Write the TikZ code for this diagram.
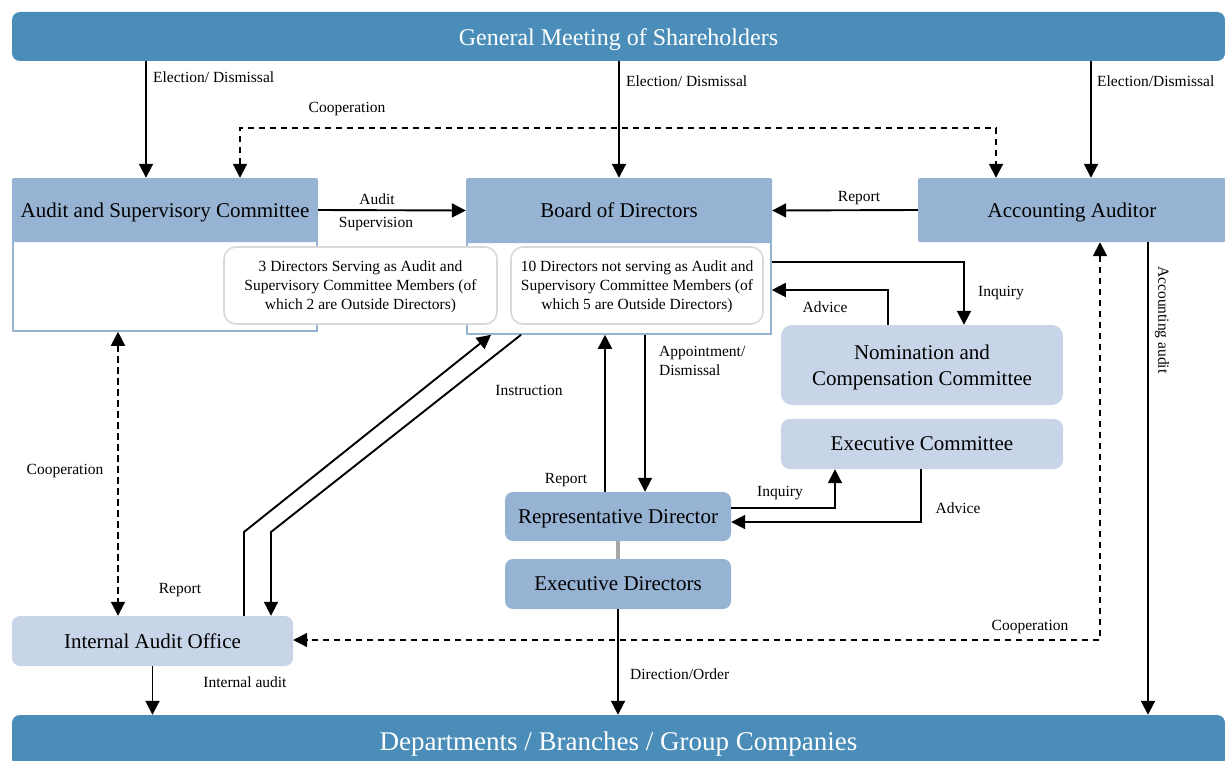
\documentclass[tikz,border=0pt]{standalone}
\usepackage{fontspec}
\setmainfont{Liberation Serif}
\usetikzlibrary{arrows.meta}
\definecolor{barblue}{RGB}{74,141,184}
\definecolor{hdrblue}{RGB}{151,179,211}
\definecolor{lightblue}{RGB}{200,213,232}
\definecolor{subgray}{RGB}{217,217,217}
\definecolor{linkgray}{RGB}{166,166,166}
\begin{document}
\begin{tikzpicture}[x=1pt,y=-1pt,
  bar/.style={fill=barblue, rounded corners=8pt, text=white, inner sep=0pt, text depth=0pt},
  hdr/.style={fill=hdrblue, rounded corners=2pt, font=\fontsize{21}{25}\selectfont, inner sep=0pt, text depth=0pt},
  lowbox/.style={fill=white, draw=hdrblue, line width=1.6pt, inner sep=0pt},
  subbox/.style={fill=white, draw=subgray, line width=1.6pt, rounded corners=12pt, align=center, font=\fontsize{15.5}{19}\selectfont, inner sep=0pt, text depth=0pt},
  dkbox/.style={fill=hdrblue, rounded corners=8pt, font=\fontsize{21}{25}\selectfont, inner sep=0pt, text depth=0pt},
  ltbox/.style={fill=lightblue, rounded corners=11pt, font=\fontsize{21}{26}\selectfont, align=center, inner sep=0pt, text depth=0pt},
  lbl/.style={font=\fontsize{15.5}{19}\selectfont, inner sep=0pt},
  arr/.style={line width=1.9pt, -{Triangle[length=14pt,width=14pt]}},
  darr/.style={line width=1.9pt, dash pattern=on 6.5pt off 4.5pt, {Triangle[length=14pt,width=14pt]}-{Triangle[length=14pt,width=14pt]}},
]
\useasboundingbox (0,0) rectangle (1225,760);

% bars
\node[bar, minimum width=1213pt, minimum height=49pt, font=\fontsize{24}{28}\selectfont] (gms) at (618.5,36.5) {\raisebox{-1pt}{General Meeting of Shareholders}};
\node[bar, minimum width=1213pt, minimum height=52pt, font=\fontsize{27}{31}\selectfont] (depts) at (618.5,741) {\raisebox{-1pt}{Departments / Branches / Group Companies}};

% composite boxes
\node[lowbox, minimum width=304pt, minimum height=91pt] (asclow) at (165,285.5) {};
\node[hdr, minimum width=306pt, minimum height=64pt] (asc) at (165,210) {Audit and Supervisory Committee};
\node[lowbox, minimum width=304pt, minimum height=94pt] (boardlow) at (619,287) {};
\node[hdr, minimum width=306pt, minimum height=65pt] (board) at (619,210.5) {Board of Directors};
\node[subbox, minimum width=273pt, minimum height=77pt] (sub3) at (360.5,285.5) {3 Directors Serving as Audit and\\Supervisory Committee Members (of\\which 2 are Outside Directors)};
\node[subbox, minimum width=252pt, minimum height=77pt] (sub10) at (637,285.5) {10 Directors not serving as Audit and\\Supervisory Committee Members (of\\which 5 are Outside Directors)};
\node[hdr, minimum width=308pt, minimum height=64pt] (aa) at (1072,210) {Accounting Auditor};

\node[ltbox, minimum width=282pt, minimum height=80pt] (nom) at (922,365) {Nomination and\\Compensation Committee};
\node[ltbox, rounded corners=9pt, minimum width=282pt, minimum height=50pt] (exc) at (922,444) {Executive Committee};
\node[dkbox, minimum width=226pt, minimum height=49pt] (rep) at (618,516.5) {Representative Director};
\node[dkbox, minimum width=226pt, minimum height=50pt] (exd) at (618,584) {Executive Directors};
\node[ltbox, rounded corners=8pt, minimum width=281pt, minimum height=50pt] (iao) at (152.5,641) {Internal Audit Office};

% helper coordinates
\coordinate (xA) at (146,0);
\coordinate (xC) at (1091,0);
\coordinate (coopL) at (240,128);
\coordinate (coopR) at (996,128);
\coordinate (inqA) at (964,262);
\coordinate (advA) at (888,290);
\coordinate (acA) at (1148,0);
\coordinate (coA) at (1100,640);
\coordinate (cL) at (118,0);
\coordinate (rA) at (244,532);
\coordinate (rB) at (491,0);
\coordinate (iA) at (271,532);
\coordinate (iB) at (521,0);
\coordinate (rv) at (605,0);
\coordinate (av) at (645,0);
\coordinate (iq) at (835,508);
\coordinate (ad) at (921,522);

% connectors
\draw[arr] (gms.south -| xA) -- (asc.north -| xA);
\draw[arr] (gms.south -| board.north) -- (board.north);
\draw[arr] (gms.south -| xC) -- (aa.north -| xC);
\draw[darr] (asc.north -| coopL) -- (coopL) -- (coopR) -- (aa.north -| coopR);
\draw[arr] (asc.east) -- (board.west);
\draw[arr] (aa.west) -- (board.east);
\draw[arr] (boardlow.east |- inqA) -- (inqA) -- (nom.north -| inqA);
\draw[arr] (nom.north -| advA) -- (advA) -- (boardlow.east |- advA);
\draw[arr] (aa.south -| acA) -- (depts.north -| acA);
\draw[darr] (aa.south -| coA) -- (coA) -- (iao.east |- coA);
\draw[darr] (asclow.south -| cL) -- (iao.north -| cL);
\draw[arr] (iao.north -| rA) -- (rA) -- (boardlow.south -| rB);
\draw[arr] (boardlow.south -| iB) -- (iA) -- (iao.north -| iA);
\draw[arr] (rep.north -| rv) -- (boardlow.south -| rv);
\draw[arr] (boardlow.south -| av) -- (rep.north -| av);
\draw[arr] (rep.east |- iq) -- (iq) -- (exc.south -| iq);
\draw[arr] (exc.south -| ad) -- (ad) -- (rep.east |- ad);
\draw[linkgray, line width=4pt] (rep.south) -- (exd.north);
\draw[arr] (exd.south) -- (depts.north -| exd.south);
\draw[arr] (iao.south) -- (depts.north -| iao.south);

% labels
\node[lbl, anchor=west] (l1) at (153,77) {Election/ Dismissal};
\node[lbl, anchor=west] (l2) at (626,81) {Election/ Dismissal};
\node[lbl, anchor=west] (l3) at (1097,81) {Election/Dismissal};
\node[lbl] (l4) at (347,109) {Cooperation};
\node[lbl] (l5) at (377,199) {Audit};
\node[lbl] (l6) at (376,224) {Supervision};
\node[lbl] (l7) at (859,198) {Report};
\node[lbl, anchor=west] (l8) at (978,293) {Inquiry};
\node[lbl] (l9) at (825,307) {Advice};
\node[lbl, rotate=-90] (l10) at (1162,320) {Accounting audit};
\node[lbl] (l11) at (1030,627) {Cooperation};
\node[lbl] (l12) at (65,471) {Cooperation};
\node[lbl] (l13) at (180,590) {Report};
\node[lbl] (l14) at (529,390) {Instruction};
\node[lbl] (l15) at (566,480) {Report};
\node[lbl, anchor=west, align=left] (l16) at (659,360.5) {Appointment/\\Dismissal};
\node[lbl] (l17) at (780,493) {Inquiry};
\node[lbl] (l18) at (958,508) {Advice};
\node[lbl, anchor=west] (l19) at (630,674) {Direction/Order};
\node[lbl] (l20) at (245,682) {Internal audit};
\end{tikzpicture}
\end{document}
